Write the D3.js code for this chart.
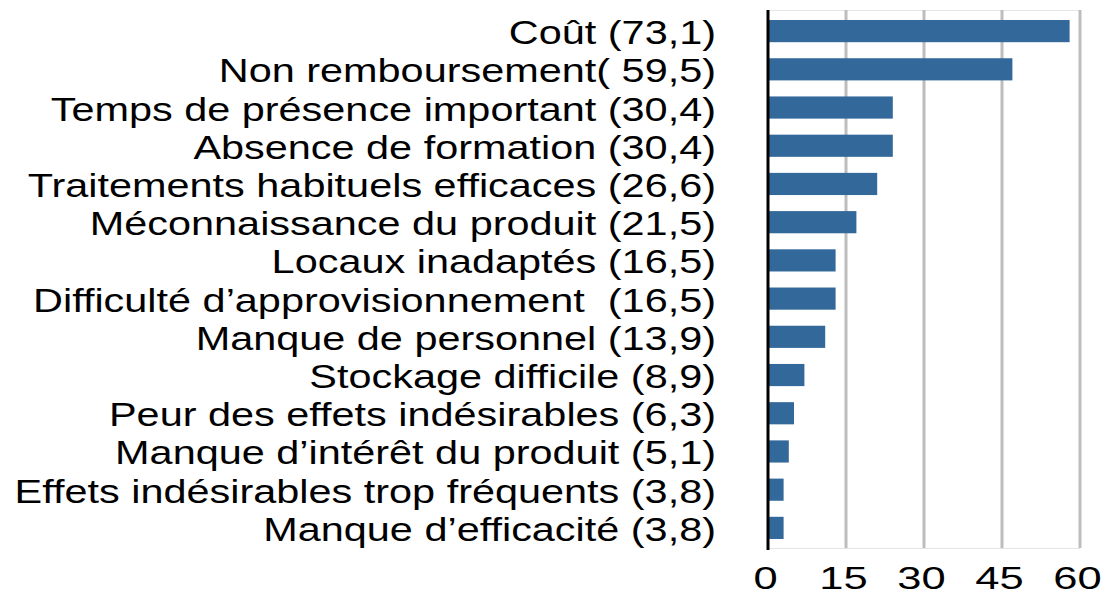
<!DOCTYPE html>
<html><head><meta charset="utf-8">
<script src="https://cdn.jsdelivr.net/npm/d3@7"></script>
<style>body{margin:0;background:#fff}svg{display:block}text{font-family:"Liberation Sans",Arial,Helvetica,sans-serif;fill:#000;white-space:pre}</style>
</head><body>
<svg id="c" width="1102" height="596"></svg>
<script>
const categories = [
  "Coût (73,1)",
  "Non remboursement( 59,5)",
  "Temps de présence important (30,4)",
  "Absence de formation (30,4)",
  "Traitements habituels efficaces (26,6)",
  "Méconnaissance du produit (21,5)",
  "Locaux inadaptés (16,5)",
  "Difficulté d’approvisionnement  (16,5)",
  "Manque de personnel (13,9)",
  "Stockage difficile (8,9)",
  "Peur des effets indésirables (6,3)",
  "Manque d’intérêt du produit (5,1)",
  "Effets indésirables trop fréquents (3,8)",
  "Manque d’efficacité (3,8)"
];
const values = [58, 47, 24, 24, 21, 17, 13, 13, 11, 7, 5, 4, 3, 3];
const tickValues = [0, 15, 30, 45, 60];

const svg = d3.select("#c");
const x = d3.scaleLinear().domain([0, 60]).range([768, 1080]);
const y = d3.scaleBand().domain(categories).range([12, 547]).paddingInner(0.42).paddingOuter(0.21);

// light frame lines top/bottom
svg.append("line").attr("x1", x(0)).attr("x2", x(60)).attr("y1", 10.5).attr("y2", 10.5).attr("stroke", "#e6e6e6").attr("stroke-width", 1);
svg.append("line").attr("x1", x(0)).attr("x2", x(60)).attr("y1", 548.5).attr("y2", 548.5).attr("stroke", "#e6e6e6").attr("stroke-width", 1);

// gridlines
svg.append("g").selectAll("line").data(tickValues.filter(d => d > 0)).join("line")
  .attr("x1", d => x(d)).attr("x2", d => x(d)).attr("y1", 10).attr("y2", 548)
  .attr("stroke", "#bdbdbd").attr("stroke-width", 3);

// bars
svg.append("g").selectAll("rect").data(categories).join("rect")
  .attr("x", x(0)).attr("y", d => y(d))
  .attr("width", (d, i) => x(values[i]) - x(0))
  .attr("height", y.bandwidth())
  .attr("fill", "#33689a");

// axis line
svg.append("line").attr("x1", x(0)).attr("x2", x(0)).attr("y1", 10).attr("y2", 550)
  .attr("stroke", "#000").attr("stroke-width", 3);

// category labels (horizontally stretched like the reference)
svg.append("g").selectAll("text").data(categories).join("text")
  .attr("transform", d => `translate(716,${y(d) + y.bandwidth() / 2}) scale(1.275,1)`)
  .attr("dy", "0.4em").attr("text-anchor", "end")
  .attr("font-size", 32.5).text(d => d);

// x tick labels
const xAxis = d3.axisBottom(x).tickValues(tickValues).tickSize(0).tickPadding(0);
const gx = svg.append("g").attr("transform", "translate(-3,566)").call(xAxis);
gx.select(".domain").remove();
gx.selectAll(".tick text")
  .attr("font-size", 32).attr("font-family", "Liberation Sans, Arial, sans-serif")
  .attr("fill", "#000").attr("y", 0).attr("dy", "0.71em")
  .attr("transform", "scale(1.36,1)")
  .attr("x", 0);
</script>
</body></html>
